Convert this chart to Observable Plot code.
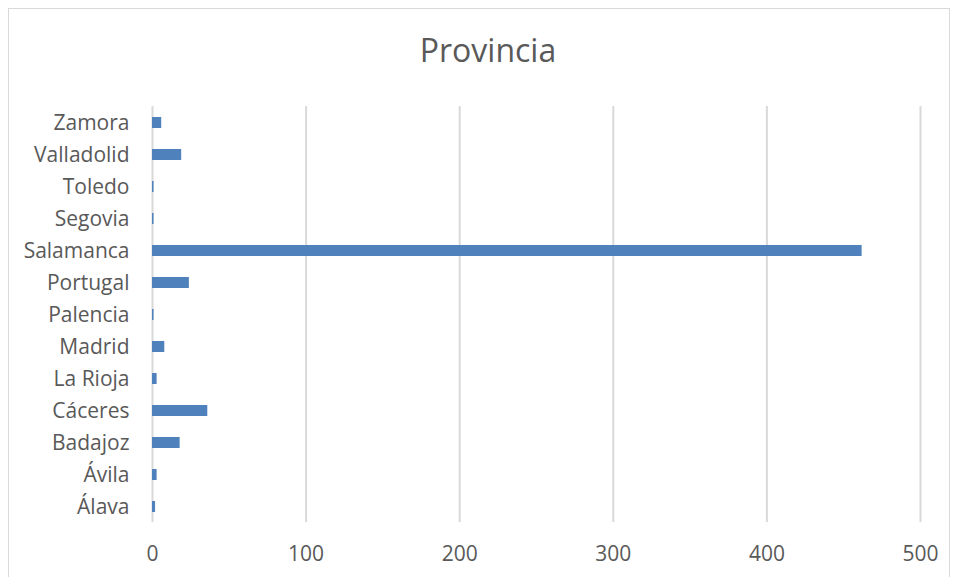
<!DOCTYPE html>
<html>
<head>
<meta charset="utf-8">
<script src="https://cdn.jsdelivr.net/npm/d3@7"></script>
<script src="https://cdn.jsdelivr.net/npm/@observablehq/plot@0.6"></script>
<style>
  html, body { margin: 0; padding: 0; background: #fff; }
  #frame {
    position: absolute; left: 8px; top: 8px; width: 940px; height: 580px;
    border: 1px solid #d9d9d9; box-sizing: content-box; overflow: hidden;
  }
  #title {
    height: 81px; line-height: 81px; text-align: center; padding-left: 18px;
    font-family: "Open Sans", sans-serif; font-size: 32px; color: #595959;
  }
  svg { display: block; }
</style>
</head>
<body>
<div id="frame">
  <div id="title">Provincia</div>
  <div id="chart"></div>
</div>
<script>
const provincias = ["Zamora", "Valladolid", "Toledo", "Segovia", "Salamanca", "Portugal", "Palencia", "Madrid", "La Rioja", "Cáceres", "Badajoz", "Ávila", "Álava"];
const valores = [6, 19, 1, 1, 462, 24, 1, 8, 3, 36, 18, 3, 2];
const xTicks = [0, 100, 200, 300, 400, 500];

const data = provincias.map((p, i) => ({provincia: p, valor: valores[i]}));

const chart = Plot.plot({
  width: 940,
  height: 487,
  marginTop: 16,
  marginBottom: 55,
  marginLeft: 143,
  marginRight: 29,
  style: {fontFamily: "'Open Sans', sans-serif", fontSize: "21px", color: "#595959", background: "#fff"},
  x: {domain: [0, 500], ticks: xTicks, label: null},
  y: {domain: provincias, paddingInner: 0.66, paddingOuter: 0.33, label: null},
  marks: [
    Plot.ruleX(xTicks, {stroke: "#d9d9d9", strokeWidth: 2, strokeOpacity: 1}),
    Plot.barX(data, {x: "valor", y: "provincia", fill: "#4f81bd"}),
    Plot.axisX({ticks: xTicks, tickSize: 0, tickPadding: 24, fill: "#595959", fontSize: 21, label: null}),
    Plot.axisY({tickSize: 0, tickPadding: 23, fill: "#595959", fontSize: 21, label: null})
  ]
});
document.getElementById("chart").appendChild(chart);
</script>
</body>
</html>
